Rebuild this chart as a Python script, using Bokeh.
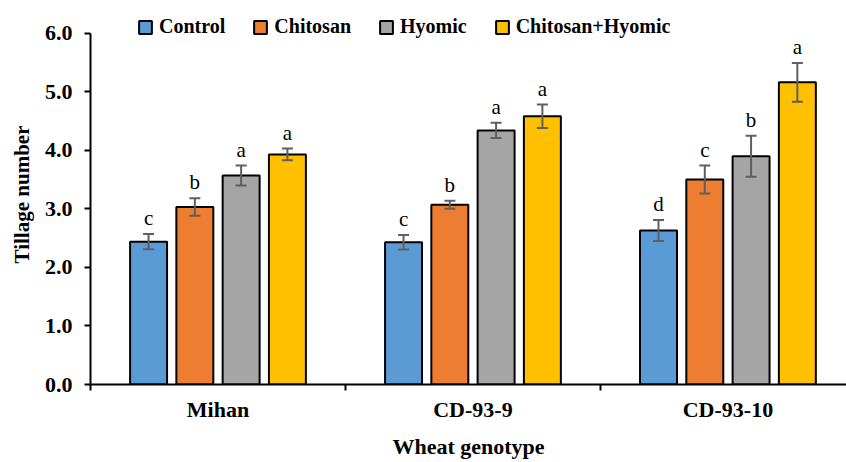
from bokeh.plotting import figure
from bokeh.models import (ColumnDataSource, Range1d, FixedTicker, Whisker, TeeHead,
                          Legend, LegendItem, NumeralTickFormatter)
from bokeh.transform import dodge
from bokeh.core.properties import value
from bokeh.embed import file_html
from bokeh.resources import INLINE

genotypes = ["Mihan", "CD-93-9", "CD-93-10"]
treatments = ["Control", "Chitosan", "Hyomic", "Chitosan+Hyomic"]
colors = ["#5B9BD5", "#ED7D31", "#A5A5A5", "#FFC000"]

control = [2.44, 2.43, 2.63]
chitosan = [3.03, 3.07, 3.50]
hyomic = [3.57, 4.34, 3.90]
chit_hyomic = [3.93, 4.58, 5.16]

control_err = [0.13, 0.125, 0.18]
chitosan_err = [0.15, 0.07, 0.24]
hyomic_err = [0.17, 0.13, 0.35]
chit_hyomic_err = [0.10, 0.20, 0.33]

control_let = ["c", "c", "d"]
chitosan_let = ["b", "b", "c"]
hyomic_let = ["a", "a", "b"]
chit_hyomic_let = ["a", "a", "a"]

y_ticks = [0, 1, 2, 3, 4, 5, 6]

series = [control, chitosan, hyomic, chit_hyomic]
errs = [control_err, chitosan_err, hyomic_err, chit_hyomic_err]
lets = [control_let, chitosan_let, hyomic_let, chit_hyomic_let]

FONT = "Liberation Serif"
centers = [i + 0.5 for i in range(len(genotypes))]

p = figure(width=846, height=462, output_backend="svg", toolbar_location=None,
           x_range=Range1d(0, 2.965), y_range=Range1d(0, 6.49),
           min_border_left=90, min_border_right=0, min_border_top=4, min_border_bottom=78)
p.outline_line_color = None
p.xgrid.visible = False
p.ygrid.visible = False

pitch = 0.1815
bw = 0.145
ERR_COL = "#5f5f5f"
items = []
for k, (name, vals, er, lt, col) in enumerate(zip(treatments, series, errs, lets, colors)):
    off = (k - 1.5) * pitch
    src = ColumnDataSource(dict(x=centers, top=vals,
                                lo=[v - e for v, e in zip(vals, er)],
                                hi=[v + e for v, e in zip(vals, er)],
                                lab=lt))
    r = p.vbar(x=dodge("x", off), top="top", width=bw, bottom=0, source=src,
               fill_color=col, line_color="black", line_width=2)
    items.append(LegendItem(label=name, renderers=[r]))
    w = Whisker(base=dodge("x", off), lower="lo", upper="hi", source=src,
                line_color=ERR_COL, line_width=2, level="annotation",
                upper_head=TeeHead(size=11, line_color=ERR_COL, line_width=2),
                lower_head=TeeHead(size=11, line_color=ERR_COL, line_width=2))
    p.add_layout(w)
    p.text(x=dodge("x", off), y="hi", text="lab", source=src, y_offset=-16,
           text_align="center", text_baseline="alphabetic",
           text_font=value(FONT), text_font_size="21px", text_color="black")

legend = Legend(items=items, orientation="horizontal", location=(47, 346),
                label_text_font=FONT, label_text_font_style="bold",
                label_text_font_size="20px", label_text_color="black",
                glyph_width=16, glyph_height=16,
                spacing=27, label_standoff=6, padding=0, margin=0,
                border_line_color=None, background_fill_alpha=0)
p.add_layout(legend)

# y axis
p.yaxis.ticker = FixedTicker(ticks=y_ticks)
p.yaxis.bounds = (0, 6)
p.yaxis.formatter = NumeralTickFormatter(format="0.0")
p.yaxis.axis_label = "Tillage number"
p.yaxis.minor_tick_line_color = None
p.yaxis.major_tick_in = 0
p.yaxis.major_tick_out = 6
p.yaxis.major_label_standoff = 12
p.yaxis.axis_label_standoff = 8

# x axis
p.xaxis.ticker = FixedTicker(ticks=centers, minor_ticks=[0, 1, 2, 3])
p.xaxis.major_label_overrides = {c: g for c, g in zip(centers, genotypes)}
p.xaxis.major_tick_out = 0
p.xaxis.major_tick_in = 0
p.xaxis.minor_tick_out = 6
p.xaxis.minor_tick_in = 0
p.xaxis.major_label_standoff = 6
p.xaxis.axis_label = "Wheat genotype"
p.xaxis.axis_label_standoff = 9

for ax in (p.xaxis, p.yaxis):
    ax.axis_line_width = 2
    ax.axis_line_color = "black"
    ax.major_tick_line_width = 2
    ax.minor_tick_line_width = 2
    ax.major_label_text_font = FONT
    ax.major_label_text_font_style = "bold"
    ax.major_label_text_font_size = "22px"
    ax.major_label_text_color = "black"
    ax.axis_label_text_font = FONT
    ax.axis_label_text_font_style = "bold"
    ax.axis_label_text_color = "black"
p.yaxis.axis_label_text_font_size = "21px"
p.xaxis.axis_label_text_font_size = "22px"

open("out.html", "w").write(file_html(p, INLINE))
